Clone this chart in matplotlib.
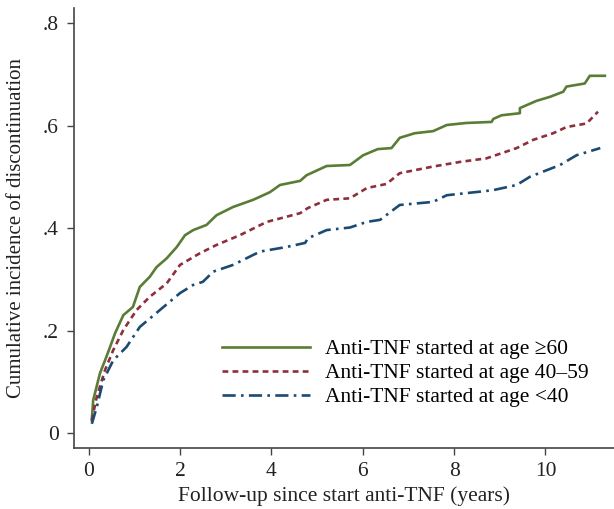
import matplotlib.pyplot as plt
from matplotlib.ticker import FuncFormatter

plt.rcParams['font.family'] = ['Liberation Serif', 'DejaVu Serif']

# Curves (years, cumulative incidence)
x_60 = [0.07, 0.10, 0.25, 0.36, 0.47, 0.58, 0.76, 0.97, 1.12, 1.34, 1.49, 1.71, 1.93, 2.11,
        2.29, 2.58, 2.80, 3.16, 3.60, 3.97, 4.19, 4.63, 4.77, 5.21, 5.72, 6.01, 6.33, 6.63,
        6.81, 7.14, 7.54, 7.84, 8.27, 8.82, 8.86, 9.04, 9.44, 9.44, 9.80, 10.10, 10.39,
        10.46, 10.86, 10.97, 11.30]
y_60 = [0.025, 0.064, 0.117, 0.142, 0.168, 0.195, 0.230, 0.246, 0.285, 0.305, 0.324, 0.341,
        0.363, 0.386, 0.396, 0.406, 0.425, 0.441, 0.455, 0.470, 0.484, 0.492, 0.503, 0.521,
        0.523, 0.542, 0.554, 0.556, 0.576, 0.585, 0.589, 0.601, 0.605, 0.607, 0.613, 0.620,
        0.624, 0.634, 0.648, 0.656, 0.666, 0.676, 0.682, 0.697, 0.697]

x_40 = [0.07, 0.18, 0.36, 0.54, 0.76, 1.05, 1.34, 1.71, 2.00, 2.44, 2.80, 3.31, 3.90, 4.33,
        4.63, 4.80, 5.21, 5.72, 6.09, 6.52, 6.81, 7.54, 8.13, 8.71, 9.37, 9.73, 10.17, 10.46,
        10.90, 11.15]
y_40 = [0.025, 0.071, 0.123, 0.162, 0.201, 0.240, 0.266, 0.292, 0.328, 0.351, 0.367, 0.386,
        0.412, 0.422, 0.429, 0.439, 0.455, 0.458, 0.478, 0.486, 0.507, 0.520, 0.529, 0.536,
        0.556, 0.572, 0.585, 0.597, 0.604, 0.627]

x_u40 = [0.07, 0.18, 0.32, 0.54, 0.83, 1.12, 1.56, 2.00, 2.29, 2.50, 2.73, 3.16, 3.75, 4.33,
         4.74, 4.80, 5.21, 5.72, 6.09, 6.38, 6.81, 7.54, 7.84, 8.57, 8.86, 9.37, 9.66, 10.32,
         10.68, 11.20]
y_u40 = [0.018, 0.051, 0.103, 0.142, 0.168, 0.207, 0.240, 0.273, 0.289, 0.295, 0.315, 0.328,
         0.354, 0.363, 0.371, 0.380, 0.396, 0.401, 0.412, 0.416, 0.445, 0.451, 0.464, 0.471,
         0.474, 0.484, 0.500, 0.523, 0.542, 0.556]

labels = ['Anti-TNF started at age \u226560', 'Anti-TNF started at age 40\u201359',
          'Anti-TNF started at age <40']

fig = plt.figure(figsize=(6.14, 5.09), dpi=100)
ax = fig.add_axes([0.1205, 0.12, 0.8795, 0.864])

ax.plot(x_60, y_60, color='#5a7d35', lw=1.9, label=labels[0])
ax.plot(x_40, y_40, color='#8e2f3c', lw=1.9, ls=(0, (2.2, 1.6)), label=labels[1])
ax.plot(x_u40, y_u40, color='#1b4a72', lw=1.9, ls=(0, (5, 2, 1, 2)), label=labels[2])

ax.set_xlim(-0.32, 11.5)
ax.set_ylim(-0.029, 0.829)
ax.set_xticks([0, 2, 4, 6, 8, 10])
ax.set_yticks([0, 0.2, 0.4, 0.6, 0.8])
ax.yaxis.set_major_formatter(FuncFormatter(lambda v, p: '0' if v == 0 else f'{v:.1f}'.lstrip('0')))

for s in ['top', 'right']:
    ax.spines[s].set_visible(False)
for s in ['left', 'bottom']:
    ax.spines[s].set_color('#444444')
    ax.spines[s].set_linewidth(1.2)
ax.tick_params(colors='#444444', labelcolor='#222222', labelsize=15.5, length=5, width=1)
ax.tick_params(axis='x', pad=5)
ax.tick_params(axis='y', pad=6)

ax.set_xlabel('Follow-up since start anti-TNF (years)', fontsize=15.5, color='#222222', labelpad=4)
ax.set_ylabel('Cumulative incidence of discontinuation', fontsize=15, color='#222222', labelpad=12)

ax.legend(loc='upper left', bbox_to_anchor=(0.274, 0.247), frameon=False, fontsize=15.5,
          handlelength=4.1, handletextpad=0.7, labelspacing=0.18, borderpad=0, borderaxespad=0)

fig.savefig('out.png', dpi=100)
